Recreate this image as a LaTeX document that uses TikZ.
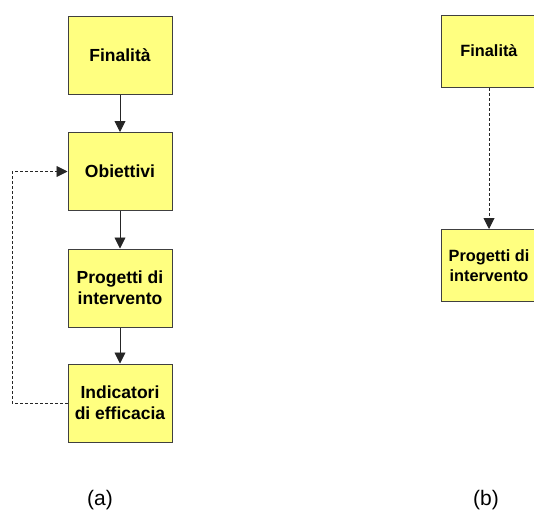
\documentclass[tikz,border=0pt]{standalone}
\usepackage{fontspec}
\setmainfont{Liberation Sans}
\usetikzlibrary{arrows.meta}
\definecolor{boxfill}{HTML}{FFFF80}
\definecolor{boxline}{HTML}{404040}
\begin{document}
\begin{tikzpicture}[x=1pt,y=-1pt,
  boxa/.style={draw=boxline,line width=1pt,fill=boxfill,minimum width=104pt,minimum height=78pt,inner sep=0pt,align=center,font=\fontsize{17.5pt}{21pt}\selectfont\bfseries},
  boxb/.style={draw=boxline,line width=1pt,fill=boxfill,minimum width=96pt,minimum height=72pt,inner sep=0pt,align=center,font=\fontsize{16.3pt}{19.5pt}\selectfont\bfseries},
  conn/.style={draw=black!85,line width=0.9pt,-{Triangle[length=11pt,width=11pt]}},
  dconn/.style={conn,dash pattern=on 3pt off 2pt},
  lab/.style={font=\fontsize{21pt}{25pt}\selectfont}]
\useasboundingbox (0,0) rectangle (534,514);
\node[boxa] (a1) at (120,55) {Finalità};
\node[boxa] (a2) at (120,171.5) {Obiettivi};
\node[boxa] (a3) at (120,288) {Progetti di\\intervento};
\node[boxa] (a4) at (120,403) {Indicatori\\di efficacia};
\draw[conn] (a1) -- (a2);
\draw[conn] (a2) -- (a3);
\draw[conn] (a3) -- (a4);
\coordinate (fa) at (12,403);
\coordinate (fb) at (12,171.5);
\draw[dconn] (a4.west) -- (fa) -- (fb) -- (a2.west);
\node[boxb] (b1) at (489,51) {Finalità};
\node[boxb] (b2) at (489,265.5) {Progetti di\\intervento};
\draw[dconn] (b1) -- (b2);
\node[lab] (la) at (100,500) {(a)};
\node[lab] (lb) at (486,500) {(b)};
\end{tikzpicture}
\end{document}
